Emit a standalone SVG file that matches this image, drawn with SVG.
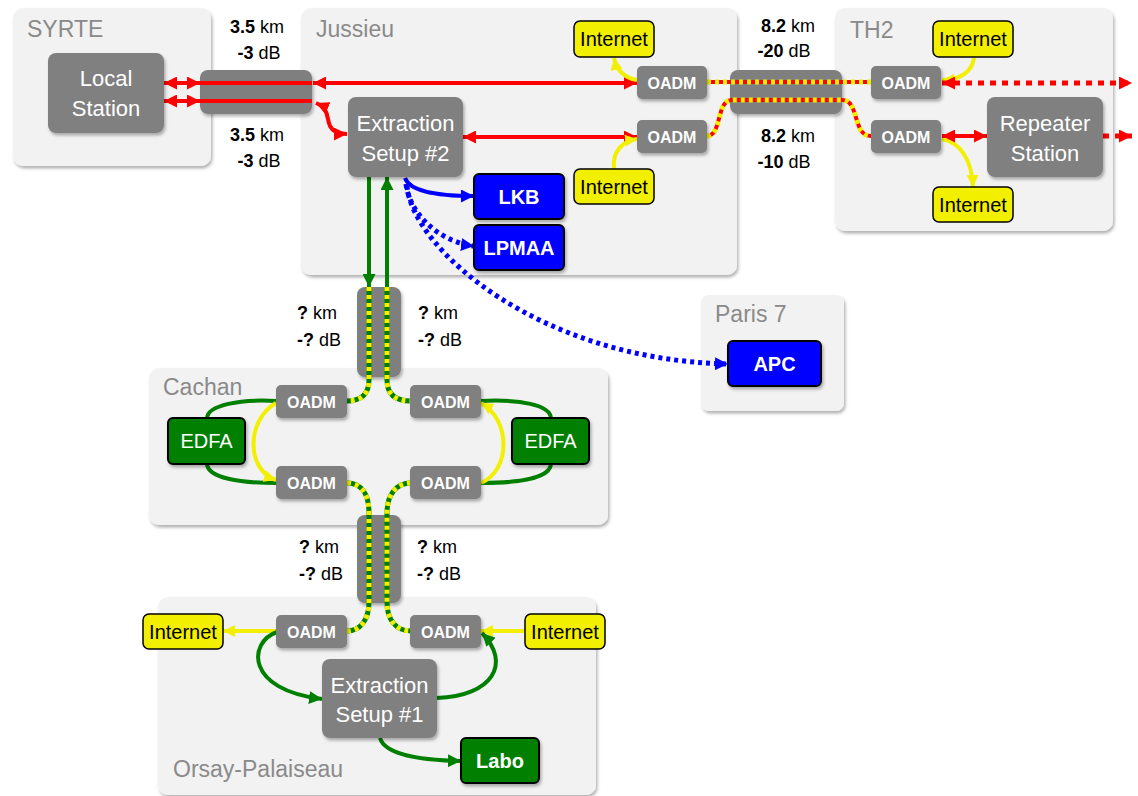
<svg xmlns="http://www.w3.org/2000/svg" width="1138" height="796" viewBox="0 0 1138 796">
<style>
.reg{fill:#f2f2f2;filter:url(#sh)}
.rt{font-family:"Liberation Sans",Arial,sans-serif;font-size:23px;fill:#8a8a8a}
.gn{fill:#808080;filter:url(#sh)}
.cab{fill:#7f7f7f;filter:url(#sh)}
.gt{font-family:"Liberation Sans",Arial,sans-serif;font-size:22px;fill:#fff;text-anchor:middle}
.ot{font-family:"Liberation Sans",Arial,sans-serif;font-size:16px;font-weight:bold;fill:#fff;text-anchor:middle}
.yn{fill:#f2ef00;stroke:#000;stroke-width:1.5}
.yt{font-family:"Liberation Sans",Arial,sans-serif;font-size:20px;fill:#000;text-anchor:middle}
.bn{fill:#0000ff;stroke:#000;stroke-width:2;filter:url(#sh)}
.grn{fill:#007f00;stroke:#000;stroke-width:2;filter:url(#sh)}
.bt{font-family:"Liberation Sans",Arial,sans-serif;font-size:20px;font-weight:bold;fill:#fff;text-anchor:middle}
.et{font-family:"Liberation Sans",Arial,sans-serif;font-size:20px;fill:#fff;text-anchor:middle}
.lt{font-family:"Liberation Sans",Arial,sans-serif;font-size:18px;fill:#000}
.lt tspan.b{font-weight:bold}
.c{fill:none}
.red{stroke:#ff0000;stroke-width:4}
.redd{stroke:#ff0000;stroke-width:5;stroke-dasharray:6 6}
.yel{stroke:#f2ef00;stroke-width:4}
.yd{stroke:#f2ef00;stroke-width:5;stroke-dasharray:4 4}
.grl{stroke:#007f00;stroke-width:4}
.gb{stroke:#007f00;stroke-width:5}
.blu{stroke:#0000ff;stroke-width:4}
.blud{stroke:#0000ff;stroke-width:5;stroke-dasharray:4 4}
</style>
<defs>
<filter id="sh" x="-10%" y="-10%" width="130%" height="140%">
<feDropShadow dx="1.5" dy="2.5" stdDeviation="1.5" flood-color="#000" flood-opacity="0.3"/>
</filter>
<marker id="ar" viewBox="0 0 12 12" refX="12" refY="6" markerWidth="13" markerHeight="13" markerUnits="userSpaceOnUse" orient="auto-start-reverse"><path d="M0,0 L12,6 L0,12 Z" fill="#ff0000"/></marker>
<marker id="ay" viewBox="0 0 12 12" refX="12" refY="6" markerWidth="12" markerHeight="12" markerUnits="userSpaceOnUse" orient="auto-start-reverse"><path d="M0,0 L12,6 L0,12 Z" fill="#f2ef00"/></marker>
<marker id="ag" viewBox="0 0 12 12" refX="12" refY="6" markerWidth="13" markerHeight="13" markerUnits="userSpaceOnUse" orient="auto-start-reverse"><path d="M0,0 L12,6 L0,12 Z" fill="#007f00"/></marker>
<marker id="ab" viewBox="0 0 12 12" refX="12" refY="6" markerWidth="13" markerHeight="13" markerUnits="userSpaceOnUse" orient="auto-start-reverse"><path d="M0,0 L12,6 L0,12 Z" fill="#0000ff"/></marker>
</defs>
<rect width="1138" height="796" fill="#fff"/>

<g id="region-syrte"><rect class="reg" x="13" y="8" width="198" height="158" rx="10"/><text class="rt" x="27" y="37">SYRTE</text></g>
<g id="region-jussieu"><rect class="reg" x="301" y="8" width="436" height="267" rx="10"/><text class="rt" x="316" y="37">Jussieu</text></g>
<g id="region-th2"><rect class="reg" x="835" y="8" width="278" height="223" rx="10"/><text class="rt" x="850" y="38">TH2</text></g>
<g id="region-paris7"><rect class="reg" x="701" y="295" width="143" height="116" rx="8"/><text class="rt" x="715" y="322">Paris 7</text></g>
<g id="region-cachan"><rect class="reg" x="149" y="368" width="459" height="157" rx="10"/><text class="rt" x="163" y="395">Cachan</text></g>
<g id="region-orsay"><rect class="reg" x="158" y="597" width="438" height="198" rx="10"/><text class="rt" x="173" y="777">Orsay-Palaiseau</text></g>

<g id="cable-syrte-jussieu"><rect class="cab" x="200" y="70" width="112" height="44" rx="8"/></g>
<g id="cable-jussieu-th2"><rect class="cab" x="730" y="70" width="112" height="44" rx="8"/></g>
<g id="cable-jussieu-cachan"><rect class="cab" x="357" y="287" width="44" height="90" rx="8"/></g>
<g id="cable-cachan-orsay"><rect class="cab" x="357" y="515" width="44" height="88" rx="8"/></g>

<g id="labels">
<text class="lt" x="257" y="33" text-anchor="middle"><tspan class="b">3.5</tspan> km</text>
<text class="lt" x="259" y="59" text-anchor="middle"><tspan class="b">-3</tspan> dB</text>
<text class="lt" x="257" y="141" text-anchor="middle"><tspan class="b">3.5</tspan> km</text>
<text class="lt" x="259" y="167" text-anchor="middle"><tspan class="b">-3</tspan> dB</text>
<text class="lt" x="788" y="32" text-anchor="middle"><tspan class="b">8.2</tspan> km</text>
<text class="lt" x="784" y="57" text-anchor="middle"><tspan class="b">-20</tspan> dB</text>
<text class="lt" x="788" y="142" text-anchor="middle"><tspan class="b">8.2</tspan> km</text>
<text class="lt" x="784" y="168" text-anchor="middle"><tspan class="b">-10</tspan> dB</text>
<text class="lt" x="297" y="319"><tspan class="b">?</tspan> km</text>
<text class="lt" x="297" y="346"><tspan class="b">-?</tspan> dB</text>
<text class="lt" x="418" y="319"><tspan class="b">?</tspan> km</text>
<text class="lt" x="418" y="346"><tspan class="b">-?</tspan> dB</text>
<text class="lt" x="299" y="553"><tspan class="b">?</tspan> km</text>
<text class="lt" x="299" y="580"><tspan class="b">-?</tspan> dB</text>
<text class="lt" x="417" y="553"><tspan class="b">?</tspan> km</text>
<text class="lt" x="417" y="580"><tspan class="b">-?</tspan> dB</text>
</g>

<g id="connectors">
<!-- SYRTE -->
<path class="c red" d="M164,83 L200,83" marker-start="url(#ar)" marker-end="url(#ar)"/>
<path class="c red" d="M164,101 L200,101" marker-start="url(#ar)" marker-end="url(#ar)"/>
<path class="c red" d="M200,83 L312,83"/>
<path class="c red" d="M200,101 L312,101"/>
<path class="c red" d="M313,83 L637,83" marker-start="url(#ar)" marker-end="url(#ar)"/>
<path class="c red" d="M316,103 C330,109 326,118 330,126 C333,132 338,134 347,134" marker-start="url(#ar)" marker-end="url(#ar)"/>
<path class="c red" d="M463,137 L637,137" marker-start="url(#ar)" marker-end="url(#ar)"/>
<!-- Jussieu - TH2 -->
<path class="c red" d="M707,82 L871,82"/>
<path class="c yd" d="M707,82 L871,82"/>
<path class="c red" d="M707,136 C722,136 716,100 732,100 L842,100 C860,100 852,136 871,136"/>
<path class="c yd" d="M707,136 C722,136 716,100 732,100 L842,100 C860,100 852,136 871,136"/>
<!-- yellow internet -->
<path class="c yel" d="M637,80 C625,78 617,72 614,58" marker-end="url(#ay)"/>
<path class="c yel" d="M614,169 C612,152 622,141 637,139" marker-end="url(#ay)"/>
<path class="c yel" d="M974,58 C972,72 960,80 942,80" marker-end="url(#ay)"/>
<path class="c yel" d="M942,139 C960,142 972,160 973,187" marker-end="url(#ay)"/>
<!-- TH2 red -->
<path class="c redd" d="M942,83 L1132,83" marker-start="url(#ar)" marker-end="url(#ar)"/>
<path class="c red" d="M942,136 L987,136" marker-start="url(#ar)" marker-end="url(#ar)"/>
<path class="c redd" d="M1103,136 L1132,136" marker-end="url(#ar)"/>
<!-- blue -->
<path class="c blu" d="M405,178 C410,192 440,196 474,196" marker-end="url(#ab)"/>
<path class="c blud" d="M406,184 C410,215 440,242 474,246" marker-end="url(#ab)"/>
<path class="c blud" d="M407,186 C413,250 540,360 728,364" marker-end="url(#ab)"/>
<!-- green vertical -->
<path class="c grl" d="M369,177 L369,287" marker-end="url(#ag)"/>
<path class="c grl" d="M387,287 L387,177" marker-end="url(#ag)"/>
<path class="c gb" d="M369,287 L369,380 C369,395 360,401 347,401"/>
<path class="c yd" d="M369,287 L369,380 C369,395 360,401 347,401"/>
<path class="c gb" d="M387,287 L387,380 C387,395 396,401 411,401"/>
<path class="c yd" d="M387,287 L387,380 C387,395 396,401 411,401"/>
<path class="c gb" d="M347,483 C362,483 369,495 369,513 L369,602 C369,620 360,631 347,631"/>
<path class="c yd" d="M347,483 C362,483 369,495 369,513 L369,602 C369,620 360,631 347,631"/>
<path class="c gb" d="M411,483 C396,483 387,495 387,513 L387,602 C387,620 396,631 411,631"/>
<path class="c yd" d="M411,483 C396,483 387,495 387,513 L387,602 C387,620 396,631 411,631"/>
<!-- Cachan -->
<path class="c grl" d="M276,401 C240,399 208,405 207,418"/>
<path class="c grl" d="M207,464 C208,478 240,483 276,483"/>
<path class="c grl" d="M481,401 C520,399 550,405 551,418"/>
<path class="c grl" d="M551,464 C550,478 520,483 481,483"/>
<path class="c yel" d="M276,403 C246,420 246,470 276,480" marker-end="url(#ay)"/>
<path class="c yel" d="M481,483 C511,470 511,420 481,403" marker-end="url(#ay)"/>
<!-- Orsay -->
<path class="c yel" d="M276,631 L223,631" marker-end="url(#ay)"/>
<path class="c yel" d="M525,631 L481,631" marker-end="url(#ay)"/>
<path class="c grl" d="M277,632 C248,642 245,690 322,699" marker-end="url(#ag)"/>
<path class="c grl" d="M437,698 C492,696 512,664 482,633" marker-end="url(#ag)"/>
<path class="c grl" d="M380,738 C385,755 420,760 461,761" marker-end="url(#ag)"/>
</g>

<g id="local-station"><rect class="gn" x="48" y="53" width="116" height="80" rx="8"/><text class="gt" x="106" y="86">Local</text><text class="gt" x="106" y="116">Station</text></g>
<g id="extraction-2"><rect class="gn" x="348" y="97" width="115" height="80" rx="8"/><text class="gt" x="405.5" y="131">Extraction</text><text class="gt" x="405.5" y="161">Setup #2</text></g>
<g id="oadm-j1"><rect class="gn" x="637" y="66" width="70" height="33" rx="5"/><text class="ot" x="672" y="88.5">OADM</text></g>
<g id="oadm-j2"><rect class="gn" x="637" y="120" width="70" height="33" rx="5"/><text class="ot" x="672" y="142.5">OADM</text></g>
<g id="internet-j1"><rect class="yn" x="574" y="21" width="80" height="36" rx="6"/><text class="yt" x="614" y="46">Internet</text></g>
<g id="internet-j2"><rect class="yn" x="574" y="169" width="80" height="35" rx="6"/><text class="yt" x="614" y="193.5">Internet</text></g>
<g id="lkb"><rect class="bn" x="474" y="174" width="90" height="45" rx="5"/><text class="bt" x="519" y="203.5">LKB</text></g>
<g id="lpmaa"><rect class="bn" x="474" y="225" width="90" height="45" rx="5"/><text class="bt" x="519" y="254.5">LPMAA</text></g>
<g id="oadm-t1"><rect class="gn" x="871" y="66" width="70" height="33" rx="5"/><text class="ot" x="906" y="88.5">OADM</text></g>
<g id="oadm-t2"><rect class="gn" x="871" y="120" width="70" height="33" rx="5"/><text class="ot" x="906" y="142.5">OADM</text></g>
<g id="repeater"><rect class="gn" x="987" y="97" width="116" height="80" rx="8"/><text class="gt" x="1045" y="131">Repeater</text><text class="gt" x="1045" y="161">Station</text></g>
<g id="internet-t1"><rect class="yn" x="933" y="21" width="80" height="36" rx="6"/><text class="yt" x="973" y="46">Internet</text></g>
<g id="internet-t2"><rect class="yn" x="933" y="187" width="80" height="35" rx="6"/><text class="yt" x="973" y="211.5">Internet</text></g>
<g id="apc"><rect class="bn" x="728" y="341" width="93" height="45" rx="5"/><text class="bt" x="774.5" y="370.5">APC</text></g>
<g id="oadm-c1"><rect class="gn" x="276" y="385" width="71" height="33" rx="5"/><text class="ot" x="311.5" y="407.5">OADM</text></g>
<g id="oadm-c2"><rect class="gn" x="410" y="385" width="71" height="33" rx="5"/><text class="ot" x="445.5" y="407.5">OADM</text></g>
<g id="oadm-c3"><rect class="gn" x="276" y="466" width="71" height="33" rx="5"/><text class="ot" x="311.5" y="488.5">OADM</text></g>
<g id="oadm-c4"><rect class="gn" x="410" y="466" width="71" height="33" rx="5"/><text class="ot" x="445.5" y="488.5">OADM</text></g>
<g id="edfa-1"><rect class="grn" x="168" y="418" width="77" height="46" rx="5"/><text class="et" x="206.5" y="448">EDFA</text></g>
<g id="edfa-2"><rect class="grn" x="512" y="418" width="77" height="46" rx="5"/><text class="et" x="550.5" y="448">EDFA</text></g>
<g id="oadm-o1"><rect class="gn" x="276" y="615" width="71" height="33" rx="5"/><text class="ot" x="311.5" y="637.5">OADM</text></g>
<g id="oadm-o2"><rect class="gn" x="410" y="615" width="71" height="33" rx="5"/><text class="ot" x="445.5" y="637.5">OADM</text></g>
<g id="internet-o1"><rect class="yn" x="143" y="614" width="80" height="35" rx="6"/><text class="yt" x="183" y="638.5">Internet</text></g>
<g id="internet-o2"><rect class="yn" x="525" y="614" width="80" height="35" rx="6"/><text class="yt" x="565" y="638.5">Internet</text></g>
<g id="extraction-1"><rect class="gn" x="322" y="659" width="115" height="79" rx="8"/><text class="gt" x="379.5" y="693">Extraction</text><text class="gt" x="379.5" y="722">Setup #1</text></g>
<g id="labo"><rect class="grn" x="461" y="738" width="78" height="45" rx="5"/><text class="bt" x="500" y="767.5">Labo</text></g>
</svg>
